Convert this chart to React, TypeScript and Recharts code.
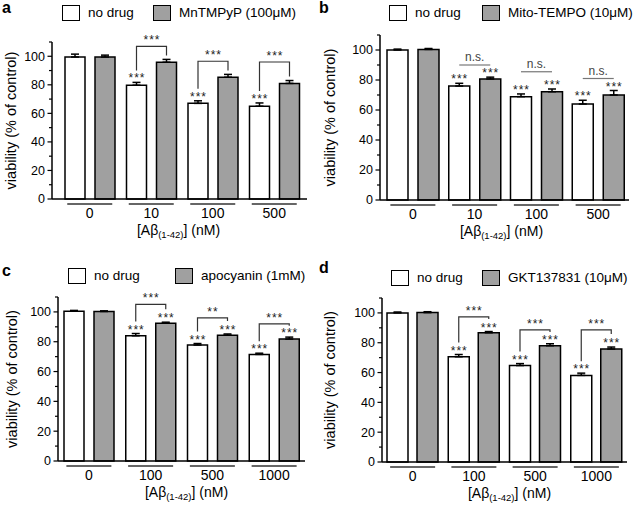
import React from 'react';
import { BarChart, Bar, XAxis, YAxis, ErrorBar, LabelList, Legend } from 'recharts';

const FONT = '"Liberation Sans", Arial, Helvetica, sans-serif';
const GRAY = '#a0a0a0';

// ---------- Panel a ----------
const aCategories = ['0', '10', '100', '500'];
const aNoDrug = [99.5, 79.7, 67, 65];
const aNoDrugErr = [2, 2, 1.8, 2.3];
const aDrug = [99.5, 95.8, 85.3, 81];
const aDrugErr = [1.3, 2, 2, 2];
const aNoDrugSig = ['', '***', '***', '***'];
const aDrugSig = ['', '', '', ''];
const aPairSig = ['', '***', '***', '***'];
const aPairLevel = [null, 107, 96.5, 96];
const aDrugName = 'MnTMPyP (100μM)';

// ---------- Panel b ----------
const bCategories = ['0', '10', '100', '500'];
const bNoDrug = [100, 76, 68.9, 64];
const bNoDrugErr = [0.6, 1.8, 1.8, 2.5];
const bDrug = [100.4, 80.7, 72.2, 70];
const bDrugErr = [0.6, 1.2, 1.8, 3];
const bNoDrugSig = ['', '***', '***', '***'];
const bDrugSig = ['', '***', '***', '***'];
const bPairSig = ['', 'n.s.', 'n.s.', 'n.s.'];
const bPairLevel = [null, 90, 85.5, 81];
const bDrugName = 'Mito-TEMPO (10μM)';

// ---------- Panel c ----------
const cCategories = ['0', '100', '500', '1000'];
const cNoDrug = [100.5, 84, 77.8, 71.5];
const cNoDrugErr = [0.5, 1.5, 1, 0.8];
const cDrug = [100.3, 92.4, 84.4, 81.8];
const cDrugErr = [0.4, 0.7, 0.8, 1.3];
const cNoDrugSig = ['', '***', '***', '***'];
const cDrugSig = ['', '***', '***', '***'];
const cPairSig = ['', '***', '**', '***'];
const cPairLevel = [null, 105, 96, 92];
const cDrugName = 'apocyanin (1mM)';

// ---------- Panel d ----------
const dCategories = ['0', '100', '500', '1000'];
const dNoDrug = [100, 70.6, 64.7, 58.1];
const dNoDrugErr = [0.6, 1.5, 1.3, 1.5];
const dDrug = [100.2, 86.7, 78, 75.8];
const dDrugErr = [0.6, 0.8, 1.3, 1.3];
const dNoDrugSig = ['', '***', '***', '***'];
const dDrugSig = ['', '***', '***', '***'];
const dPairSig = ['', '***', '***', '***'];
const dPairLevel = [null, 97.3, 88.6, 88.6];
const dDrugName = 'GKT137831 (10μM)';

const yTicks = [0, 10, 20, 30, 40, 50, 60, 70, 80, 90, 100, 110];
const noDrugName = 'no drug';
const yTitle = 'viability (% of control)';

const panels = [
  {
    letter: 'a', left: 0, top: 0, width: 317, height: 255,
    margin: { top: 42, right: 10, bottom: 12, left: 12 }, pad: { left: 7, right: 2 },
    barSize: 20, barGap: 10, legendTop: 5, legendX: [62, 153], letterX: 2, letterBase: 13,
    yTitleX: 11, xTitleDx: -1,
    categories: aCategories, nd: aNoDrug, ndErr: aNoDrugErr, drug: aDrug, drugErr: aDrugErr,
    ndSig: aNoDrugSig, drugSig: aDrugSig, pairSig: aPairSig, pairLevel: aPairLevel, drugName: aDrugName,
  },
  {
    letter: 'b', left: 317, top: 0, width: 317, height: 255,
    margin: { top: 35, right: 5, bottom: 11, left: 23 }, pad: { left: 2, right: 0 },
    barSize: 21, barGap: 10, legendTop: 5, legendX: [72, 165], letterX: 2, letterBase: 13,
    yTitleX: 13, xTitleDx: -3,
    categories: bCategories, nd: bNoDrug, ndErr: bNoDrugErr, drug: bDrug, drugErr: bDrugErr,
    ndSig: bNoDrugSig, drugSig: bDrugSig, pairSig: bPairSig, pairLevel: bPairLevel, drugName: bDrugName,
  },
  {
    letter: 'c', left: 0, top: 255, width: 317, height: 254,
    margin: { top: 42, right: 12, bottom: 4, left: 18 }, pad: { left: 0, right: 0 },
    barSize: 20, barGap: 10, legendTop: 13, legendX: [68, 175], letterX: 2, letterBase: 21,
    yTitleX: 12, xTitleDx: 5,
    categories: cCategories, nd: cNoDrug, ndErr: cNoDrugErr, drug: cDrug, drugErr: cDrugErr,
    ndSig: cNoDrugSig, drugSig: cDrugSig, pairSig: cPairSig, pairLevel: cPairLevel, drugName: cDrugName,
  },
  {
    letter: 'd', left: 317, top: 255, width: 317, height: 254,
    margin: { top: 43, right: 7, bottom: 3, left: 25 }, pad: { left: 0, right: 0 },
    barSize: 21, barGap: 9, legendTop: 15, legendX: [74, 165], letterX: 2, letterBase: 18,
    yTitleX: 13, xTitleDx: 5,
    categories: dCategories, nd: dNoDrug, ndErr: dNoDrugErr, drug: dDrug, drugErr: dDrugErr,
    ndSig: dNoDrugSig, drugSig: dDrugSig, pairSig: dPairSig, pairLevel: dPairLevel, drugName: dDrugName,
  },
];

const TICK_SIZE = 4;
const TICK_MARGIN = 3;

const YTick = (props: any) => {
  const { x, y, payload } = props;
  const v = payload.value;
  const ax = x + TICK_SIZE + TICK_MARGIN;
  const major = v % 20 === 0 && v <= 100;
  return (
    <g>
      <line x1={ax} x2={ax - (major ? 4.5 : 3)} y1={y} y2={y} stroke="#000" strokeWidth={1.2} />
      {major ? (
        <text x={x} y={y} dy={4.4} textAnchor="end" fontSize={12.5} fontFamily={FONT} fill="#000">
          {v}
        </text>
      ) : null}
    </g>
  );
};

const XTick = (props: any) => {
  const { x, y, payload } = props;
  return (
    <g>
      <line x1={x - 22.5} x2={x + 22.5} y1={y + 5} y2={y + 5} stroke="#333" strokeWidth={1.6} />
      <text x={x} y={y + 19} textAnchor="middle" fontSize={14} fontFamily={FONT} fill="#000">
        {payload.value}
      </text>
    </g>
  );
};

function Stars({ x, y, s }: any) {
  return (
    <text x={x + 0.5} y={y} textAnchor="middle" fontSize={12} letterSpacing={1} fontFamily={FONT} fill="#222">
      {s}
    </text>
  );
}

function Panel({ cfg }: any) {
  const data = cfg.categories.map((c: string, i: number) => ({
    cat: c,
    nd: cfg.nd[i],
    drug: cfg.drug[i],
    ndErr: [0, cfg.ndErr[i]],
    drugErr: [0, cfg.drugErr[i]],
  }));
  const offset = cfg.barSize + cfg.barGap;

  const ndLabel = (props: any) => {
    const vb = props.viewBox || props;
    const i = props.index;
    const sig = cfg.ndSig[i];
    if (!sig || !vb || !vb.height) return <g />;
    const k = vb.height / cfg.nd[i];
    const cap = vb.y - cfg.ndErr[i] * k;
    return <Stars x={vb.x + vb.width / 2} y={cap} s={sig} />;
  };

  const drugLabel = (props: any) => {
    const vb = props.viewBox || props;
    const i = props.index;
    if (!vb || !vb.height) return <g />;
    const k = vb.height / cfg.drug[i];
    const zeroY = vb.y + vb.height;
    const cx = vb.x + vb.width / 2;
    const dCap = vb.y - cfg.drugErr[i] * k;
    const level = cfg.pairLevel[i];
    const out: any[] = [];
    if (cfg.drugSig[i]) out.push(<Stars key="ds" x={cx} y={dCap} s={cfg.drugSig[i]} />);
    if (level != null) {
      const by = zeroY - level * k;
      const ncx = cx - offset;
      const nCap = zeroY - (cfg.nd[i] + cfg.ndErr[i]) * k;
      const mid = (ncx + cx) / 2;
      if (cfg.pairSig[i] === 'n.s.') {
        out.push(<line key="ns" x1={ncx} x2={cx} y1={by} y2={by} stroke="#777" strokeWidth={1.2} />);
        out.push(
          <text key="nst" x={mid} y={by - 4} textAnchor="middle" fontSize={12} fontFamily={FONT} fill="#444">
            n.s.
          </text>
        );
      } else {
        const lb = nCap - (cfg.ndSig[i] ? 12 : 4);
        const rb = Math.max(dCap - (cfg.drugSig[i] ? 13 : 4), by + 2);
        out.push(
          <path key="br" d={`M${ncx},${lb}V${by}H${cx}V${rb}`} fill="none" stroke="#333" strokeWidth={1.2} />
        );
        out.push(<Stars key="bs" x={mid} y={by - 2} s={cfg.pairSig[i]} />);
      }
    }
    return <g>{out}</g>;
  };

  const renderLegend = (props: any) => {
    const items = props.payload || [];
    return (
      <div style={{ position: 'relative', width: cfg.width, height: 30, fontFamily: FONT, fontSize: 13.5, color: '#000' }}>
        {items.map((e: any, i: number) => {
          const slot = e.dataKey === 'drug' ? 1 : 0;
          return (
            <div
              key={i}
              style={{ position: 'absolute', left: cfg.legendX[slot], top: cfg.legendTop, display: 'flex', alignItems: 'center', whiteSpace: 'nowrap' }}
            >
              <span
                style={{
                  display: 'inline-block', width: 18, height: 16, boxSizing: 'border-box',
                  border: '1.5px solid #000', background: slot === 1 ? GRAY : '#fff',
                }}
              />
              <span style={{ marginLeft: 8, lineHeight: '16px' }}>{e.value}</span>
            </div>
          );
        })}
      </div>
    );
  };

  const yTitleContent = (p: any) => {
    const vb = p.viewBox || {};
    const cy = vb.y + vb.height / 2;
    const x = cfg.yTitleX;
    return (
      <text x={x} y={cy} dy={5} textAnchor="middle" transform={`rotate(-90, ${x}, ${cy})`} fontSize={14.5} fontFamily={FONT} fill="#000">
        {yTitle}
      </text>
    );
  };

  const xTitleContent = (p: any) => {
    const vb = p.viewBox || {};
    const cx = vb.x + vb.width / 2 + cfg.xTitleDx;
    return (
      <text x={cx} y={vb.y + 36} textAnchor="middle" fontSize={14} fontFamily={FONT} fill="#000">
        [Aβ<tspan fontSize={9.5} dy={3}>(1-42)</tspan>
        <tspan dy={-3}>] (nM)</tspan>
      </text>
    );
  };

  return (
    <div style={{ position: 'absolute', left: cfg.left, top: cfg.top, width: cfg.width, height: cfg.height }}>
      <BarChart
        width={cfg.width}
        height={cfg.height}
        data={data}
        margin={cfg.margin}
        barSize={cfg.barSize}
        barGap={cfg.barGap}
      >
        <XAxis
          dataKey="cat"
          type="category"
          height={44}
          padding={cfg.pad}
          axisLine={{ stroke: '#000', strokeWidth: 1.5 }}
          tickLine={false}
          tickSize={0}
          tickMargin={0}
          interval={0}
          tick={<XTick />}
          label={{ content: xTitleContent }}
        />
        <YAxis
          type="number"
          domain={[0, 110]}
          ticks={yTicks}
          interval={0}
          width={40}
          axisLine={{ stroke: '#000', strokeWidth: 1.5 }}
          tickLine={false}
          tickSize={TICK_SIZE}
          tickMargin={TICK_MARGIN}
          tick={<YTick />}
          label={{ content: yTitleContent }}
        />
        <Legend
          verticalAlign="middle"
          align="center"
          layout="horizontal"
          wrapperStyle={{ top: 0, left: 0, width: cfg.width, height: 30 }}
          content={renderLegend}
        />
        <Bar dataKey="nd" name={noDrugName} fill="#fff" stroke="#000" strokeWidth={1.5} isAnimationActive={false}>
          <ErrorBar dataKey="ndErr" width={4} stroke="#000" strokeWidth={1.5} direction="y" />
          <LabelList dataKey="nd" content={ndLabel} />
        </Bar>
        <Bar dataKey="drug" name={cfg.drugName} fill={GRAY} stroke="#000" strokeWidth={1.5} isAnimationActive={false}>
          <ErrorBar dataKey="drugErr" width={4} stroke="#000" strokeWidth={1.5} direction="y" />
          <LabelList dataKey="drug" content={drugLabel} />
        </Bar>
      </BarChart>
      <svg width={24} height={26} style={{ position: 'absolute', left: 0, top: 0 }}>
        <text x={cfg.letterX} y={cfg.letterBase} fontFamily={FONT} fontWeight="bold" fontSize={16} fill="#000">
          {cfg.letter}
        </text>
      </svg>
    </div>
  );
}

export default function App() {
  return (
    <div style={{ position: 'absolute', left: 0, top: 0, width: 634, height: 509, background: '#fff', overflow: 'hidden' }}>
      {panels.map((p) => (
        <Panel key={p.letter} cfg={p} />
      ))}
    </div>
  );
}
